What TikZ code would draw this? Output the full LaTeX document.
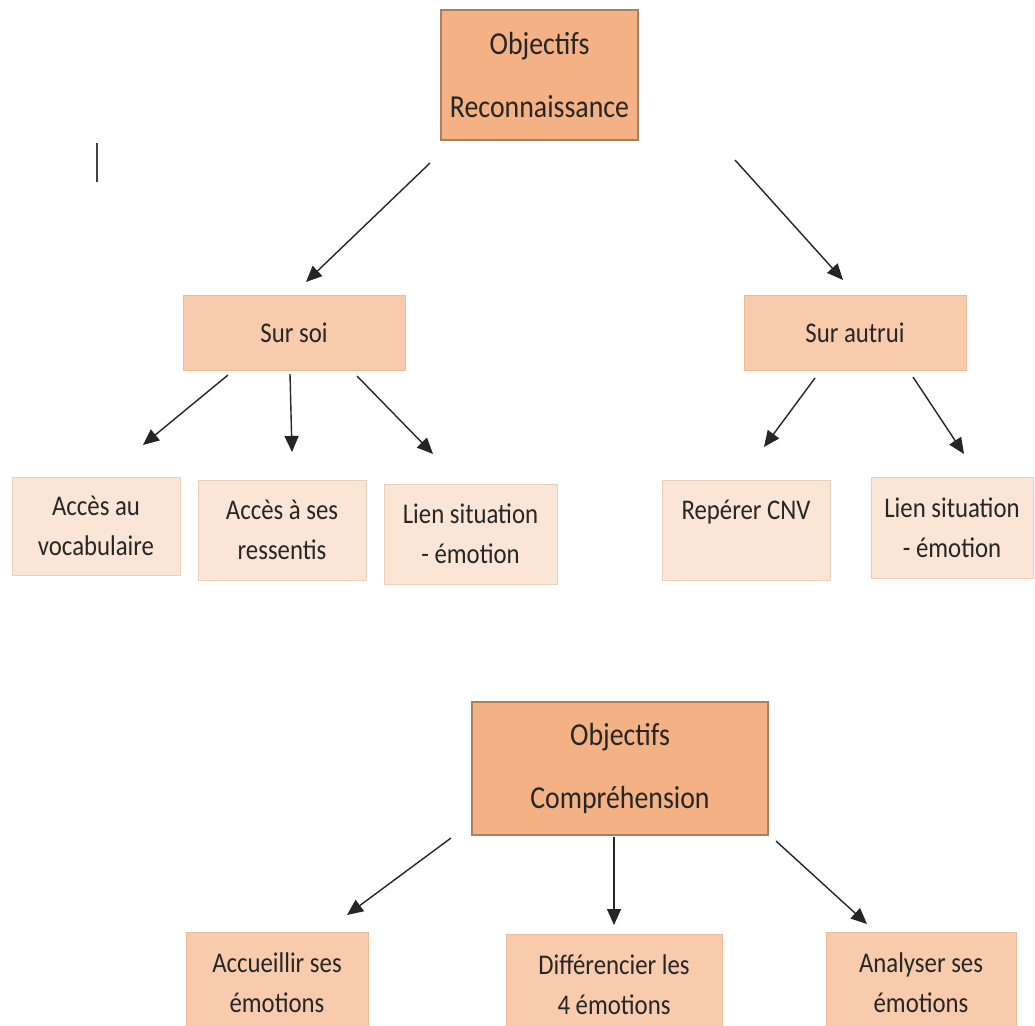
\documentclass[tikz,border=0pt]{standalone}
\usepackage{fontspec}
\setmainfont{Carlito}[FakeStretch=0.87]
\usetikzlibrary{arrows.meta}
\definecolor{topfill}{HTML}{F4B183}
\definecolor{topdraw}{HTML}{A8805F}
\definecolor{midfill}{HTML}{F8CBAD}
\definecolor{middraw}{HTML}{E9BC9C}
\definecolor{lowfill}{HTML}{FBE5D6}
\definecolor{lowdraw}{HTML}{EDCFB8}
\definecolor{txt}{HTML}{262626}
\tikzset{
  topbox/.style={rectangle, fill=topfill, draw=topdraw, line width=1.1pt, inner sep=0pt, align=center, text=txt, font=\fontsize{32}{63}\selectfont},
  midbox/.style={rectangle, fill=midfill, draw=middraw, line width=0.8pt, inner sep=0pt, align=center, text=txt, font=\fontsize{28.5}{40}\selectfont},
  lowbox/.style={rectangle, fill=lowfill, draw=lowdraw, line width=0.8pt, inner sep=0pt, align=center, text=txt, font=\fontsize{28.5}{40}\selectfont},
  arr/.style={draw=black!85, line width=1.4pt, -{Triangle[length=16pt,width=14pt]}},
}
\begin{document}
\begin{tikzpicture}[x=1pt,y=-1pt]
\clip (0,0) rectangle (1035,1025);
\fill[white] (0,0) rectangle (1035,1025);
% top section
\node[topbox, minimum width=197pt, minimum height=130pt] (obj1) at (539.5,75) {Objectifs\\Reconnaissance};
\node[midbox, minimum width=222pt, minimum height=75pt] (soi) at (294,333) {Sur soi};
\node[midbox, minimum width=222pt, minimum height=75pt] (autrui) at (855,333) {Sur autrui};
\node[lowbox, minimum width=168pt, minimum height=98pt] (voc) at (96,526) {Accès au\\vocabulaire};
\node[lowbox, minimum width=168pt, minimum height=100pt] (ress) at (282,530) {Accès à ses\\ressentis};
\node[lowbox, minimum width=173pt, minimum height=100pt] (lien1) at (470.5,534) {Lien situation\\- émotion};
\node[lowbox, minimum width=168pt, minimum height=100pt] (cnv) at (746,530) {Repérer CNV\\\phantom{x}};
\node[lowbox, minimum width=162pt, minimum height=101pt] (lien2) at (952,527.5) {Lien situation\\- émotion};
% bottom section
\node[topbox, minimum width=296pt, minimum height=133pt] (obj2) at (620,768.5) {Objectifs\\Compréhension};
\node[midbox, minimum width=182pt, minimum height=102pt] (acc) at (277,983) {Accueillir ses\\émotions};
\node[midbox, minimum width=216pt, minimum height=102pt] (diff) at (614,985) {Différencier les\\4 émotions};
\node[midbox, minimum width=190pt, minimum height=102pt] (ana) at (921,983) {Analyser ses\\émotions};
% cursor bar
\draw[black!75, line width=2pt] (96.5,143) -- (96.5,182);
% arrow end points
\coordinate (a1s) at (430,163); \coordinate (a1e) at (306,282);
\coordinate (a2s) at (735,160); \coordinate (a2e) at (843,280);
\coordinate (b1s) at (228,375); \coordinate (b1e) at (143,445);
\coordinate (b2s) at (290,374); \coordinate (b2e) at (292,452);
\coordinate (b3s) at (357,376); \coordinate (b3e) at (433,454);
\coordinate (c1s) at (815,378); \coordinate (c1e) at (764,447);
\coordinate (c2s) at (913,377); \coordinate (c2e) at (964,454);
\coordinate (d1s) at (451,838); \coordinate (d1e) at (347,915);
\coordinate (d2s) at (614,837); \coordinate (d2e) at (614,925);
\coordinate (d3s) at (776,841); \coordinate (d3e) at (867,924);
\draw[arr] (a1s) -- (a1e);
\draw[arr] (a2s) -- (a2e);
\draw[arr] (b1s) -- (b1e);
\draw[arr] (b2s) -- (b2e);
\draw[arr] (b3s) -- (b3e);
\draw[arr] (c1s) -- (c1e);
\draw[arr] (c2s) -- (c2e);
\draw[arr] (d1s) -- (d1e);
\draw[arr] (d2s) -- (d2e);
\draw[arr] (d3s) -- (d3e);
\end{tikzpicture}
\end{document}
